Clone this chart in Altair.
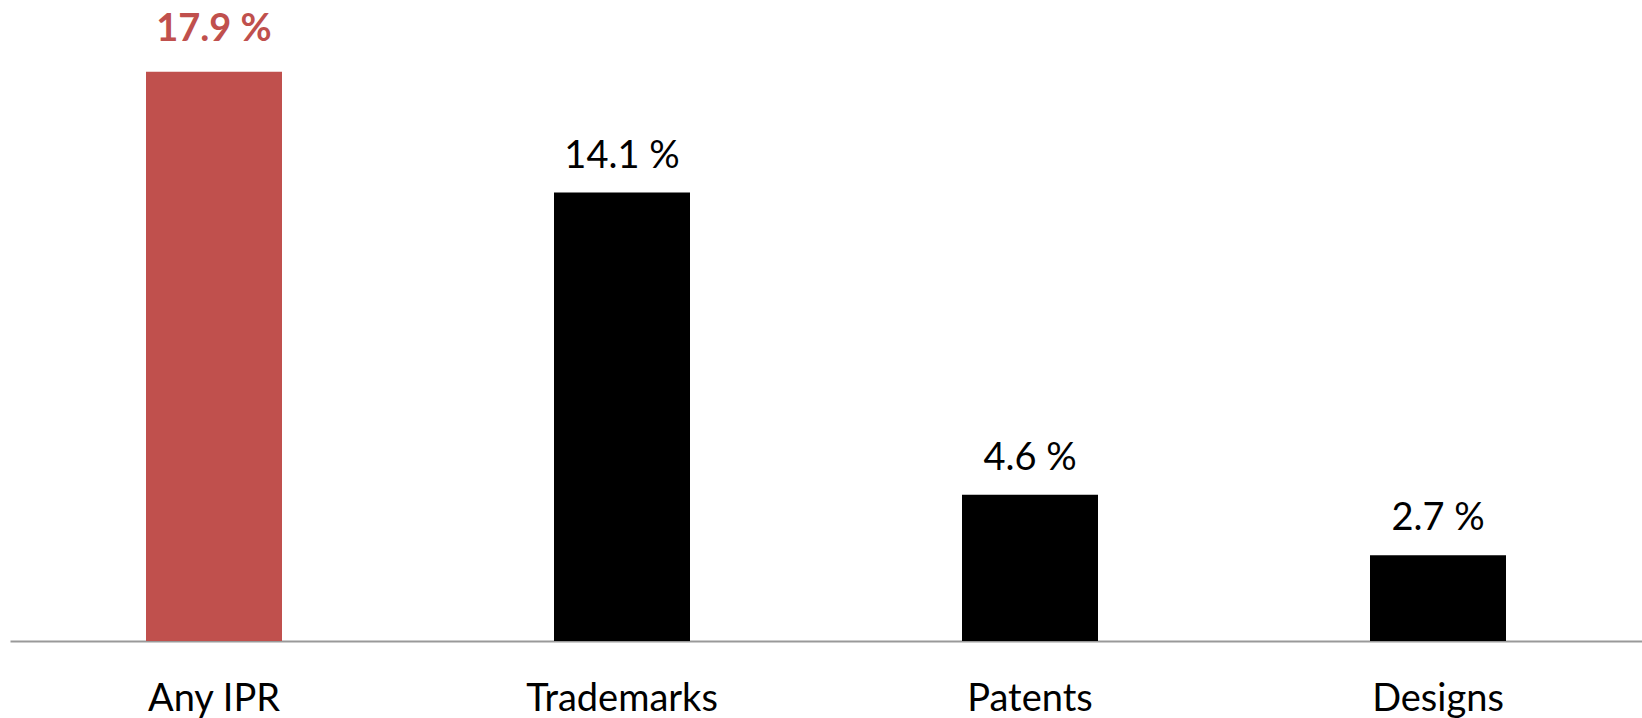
import altair as alt
import pandas as pd

# Share of firms holding each type of intellectual property right (%)
categories = ["Any IPR", "Trademarks", "Patents", "Designs"]
values = [17.9, 14.1, 4.6, 2.7]
labels = ["17.9 %", "14.1 %", "4.6 %", "2.7 %"]
highlight = [True, False, False, False]

df = pd.DataFrame({
    "category": categories,
    "value": values,
    "label": labels,
    "highlight": highlight,
})

RED = "#C0504D"
FONT = "Lato"

x = alt.X(
    "category:N",
    sort=categories,
    title=None,
    scale=alt.Scale(paddingInner=2 / 3, paddingOuter=1 / 3),
    axis=alt.Axis(
        labelAngle=0,
        labelFont=FONT,
        labelFontSize=38,
        labelColor="#000000",
        labelBaseline="alphabetic",
        labelPadding=69,
        labelLimit=0,
        ticks=False,
        tickSize=0,
        domain=True,
        domainColor="#999999",
        domainWidth=2,
        grid=False,
    ),
)
y = alt.Y(
    "value:Q",
    title=None,
    scale=alt.Scale(domain=[0, 20], nice=False, zero=True),
    axis=None,
)

bars = alt.Chart(df).mark_bar(size=136).encode(
    x=x,
    y=y,
    color=alt.condition(alt.datum.highlight, alt.value(RED), alt.value("#000000")),
)

plain_labels = (
    alt.Chart(df)
    .transform_filter(~alt.datum.highlight)
    .mark_text(font=FONT, fontSize=38, baseline="alphabetic", dy=-25, color="#000000")
    .encode(x=x, y=y, text="label:N")
)

bold_labels = (
    alt.Chart(df)
    .transform_filter(alt.datum.highlight)
    .mark_text(font=FONT, fontSize=38, fontWeight="bold", baseline="alphabetic", dy=-31, color=RED)
    .encode(x=x, y=y, text="label:N")
)

chart = (
    alt.layer(bars, plain_labels, bold_labels)
    .properties(
        width=1632,
        height=636,
        padding={"left": 10, "top": 5, "right": 0, "bottom": 77},
        autosize=alt.AutoSizeParams(type="none"),
        view=alt.ViewBackground(stroke="#ffffff", strokeWidth=0, strokeOpacity=0),
    )
    .configure_view(strokeWidth=0, strokeOpacity=0)
    .configure(background="#ffffff")
)

chart.save("out.html", embed_options={"renderer": "svg", "actions": False})
